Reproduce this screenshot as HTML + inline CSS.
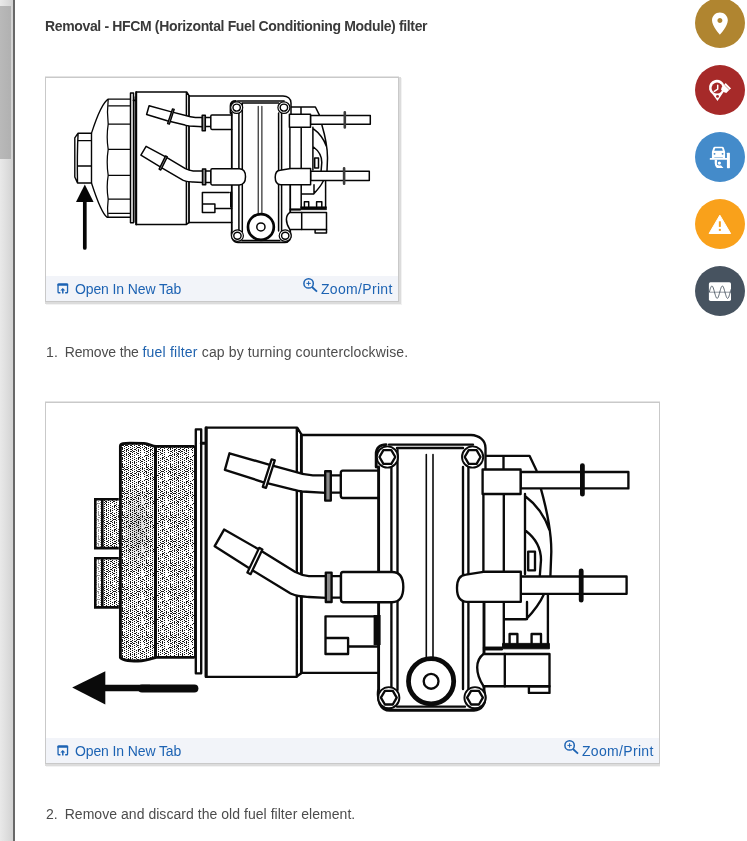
<!DOCTYPE html>
<html lang="en">
<head>
<meta charset="utf-8">
<title>Removal - HFCM (Horizontal Fuel Conditioning Module) filter</title>
<style>
html,body{margin:0;padding:0;background:#fff;}
body{width:747px;height:841px;position:relative;overflow:hidden;font-family:"Liberation Sans",sans-serif;font-size:14px;color:#4c4c4c;}
.abs{position:absolute;}
.track{left:0;top:0;width:13px;height:841px;background:linear-gradient(to right,#e9e9e9 0,#dcdcdc 60%,#d2d2d2 100%);}
.thumb{left:0;top:6px;width:11px;height:153px;background:linear-gradient(to right,#b9b9b9,#b1b1b1);}
.split{left:13px;top:0;width:2px;height:841px;background:#686868;}
h1{margin:0;left:44.8px;top:18.4px;font-size:14px;line-height:16px;font-weight:bold;color:#3a3a3a;letter-spacing:-0.35px;white-space:nowrap;will-change:transform;}
.step{left:45.5px;line-height:16px;white-space:nowrap;will-change:transform;}
.step .n{display:inline-block;width:18.7px;}
.step a{color:#1f62ae;text-decoration:none;}
.clip{left:0;top:0;height:841px;overflow:hidden;}
.fig{left:45px;box-sizing:border-box;border:1px solid #c9c9c9;background:#fff;box-shadow:1px 1px 0 1px #dcdcdc,2px 2px 0 1px #f2f2f2,0 -1px 0 0 #e4e4e4;}
.fig .img{display:block;position:absolute;left:0;top:0;}
.fig .bar{position:absolute;left:0;right:0;bottom:0;height:25px;background:#f2f4f9;}
.fig .bar a{position:absolute;top:5px;line-height:16px;color:#1d63b3;text-decoration:none;white-space:nowrap;will-change:transform;}
.fig .bar svg{position:absolute;}
.fab{width:50px;height:50px;border-radius:50%;left:695px;}
.fab svg{position:absolute;left:0;top:0;}
</style>
</head>
<body>
<div class="abs track"></div>
<div class="abs thumb"></div>
<div class="abs split"></div>
<h1 class="abs">Removal - HFCM (Horizontal Fuel Conditioning Module) filter</h1>
<div class="abs clip" style="width:747px;"><div class="abs fig" style="top:77px;width:354px;height:225px;">
<svg class="img" width="352" height="198" viewBox="46 78 352 198" role="img" aria-label="HFCM fuel filter housing with arrow pointing at the filter cap">
<path d="M 133.5 96.5 L 136.1 96.5 L 136.1 222.5 L 133.5 222.5 Z" fill="#8e8e8e"/>
<path d="M 130.5 93 L 133.5 93 L 133.5 222.7 L 130.5 222.7 Z M 136 224.6 L 136 92 L 186.7 92 L 189.2 95.9 L 283 95.9 C 287.4 96.1 291 98.6 291 102.9 L 291 114 M 136 224.6 L 186.2 224.6 L 189.2 222.4 L 231.7 222.4 M 186.4 92 L 186.4 224.6 M 205.2 117.4 L 210.8 117.4 M 205.2 126.6 L 210.8 126.6 M 231.7 114.9 L 211.9 114.9 C 211.1 114.9 210.8 115.4 210.8 116.2 L 210.8 128.1 C 210.8 128.9 211.2 129.4 211.9 129.4 L 231.7 129.4 M 229.2 192.4 L 202.4 192.4 L 202.4 212.4 L 214.9 212.4 L 214.9 203.9 L 202.4 203.9 M 214.9 208.4 L 231.7 208.4 M 238.9 113 L 238.9 231 M 242.3 103.9 L 242.3 231.6 M 278.6 113 L 278.6 231 M 281.6 103.9 L 281.6 231.6 M 237.6 101 L 284.1 101 M 242 102.9 L 278.6 102.9 M 242 240.4 L 279.7 240.4 M 291 107 L 301 107 L 301 114.3 M 301 107 L 315.4 107 L 319.3 114.8 M 289.9 127.3 L 289.9 168.8 M 301.2 127.3 L 301.2 206.6 M 312.9 127.3 L 312.9 169.9 M 325.6 181 L 325.6 207.6 M 312.9 128.4 C 319.6 133.2 324 139.6 326.5 146.5 M 321.7 124.3 C 324.6 134.2 327.6 146.5 327.5 158.2 L 327 170.9 M 313.5 147 C 318.5 150.7 321.8 156 321.8 162.4 L 321.1 170.9 M 314.7 158 L 318.5 158 L 318.5 167.9 L 314.7 167.9 Z M 301.7 193.9 L 313.6 193.9 C 317.9 189.6 321.3 185.3 323.4 180.8 M 314 184.8 L 314 193.8 M 304.4 206.6 L 304.4 201.8 L 308.7 201.8 L 308.7 206.6 M 316.6 206.6 L 316.6 201.8 L 321.8 201.8 L 321.8 206.6" fill="none" stroke="#050505" stroke-width="1.5" stroke-linejoin="round" stroke-linecap="round"/>
<path d="M 189 95.9 L 189 222.4 M 136.3 92.2 L 136.3 224.4 M 133.5 100.3 L 136.1 100.3 M 231.8 231 L 231.8 113 M 230.5 113 L 230.5 106 C 230.5 102.9 232.6 101 235.9 101 M 231.8 231 C 230.9 236.9 232.6 242.4 238.1 242.4 L 284.7 242.4 C 289.1 242.4 291.1 238.5 290.8 234.8 L 290.2 231.6 M 290.2 184.7 L 290.2 231.6" fill="none" stroke="#050505" stroke-width="1.8" stroke-linejoin="round" stroke-linecap="round"/>
<path d="M 258.2 106.3 L 258.2 215.6 M 261.9 106.3 L 261.9 215.6" fill="none" stroke="#050505" stroke-width="1.02" stroke-linejoin="round" stroke-linecap="round"/>
<path d="M 230 191.7 L 232.3 191.7 L 232.3 207.6 L 230 207.6 Z" fill="#050505"/>
<path d="M 300.5 206.8 L 326.5 206.8 L 326.5 209.7 L 300.5 209.7 L 300.5 210.3 L 289.9 210.3 L 289.9 208.7 L 300.5 208.7 Z" fill="#050505" stroke="#050505" stroke-width="0.60"/>
<path d="M 149.1 105.7 L 170.5 111.6 L 185.7 115.5 C 188.2 116.4 191.5 117.2 195.4 117.4 L 202.6 117.4 L 202.6 126.7 L 189.4 126 C 187.1 125.7 186 125.4 185 125.1 L 167.2 120.8 L 146.6 114.5 Z" fill="#fff" stroke="#050505" stroke-width="1.5" stroke-linejoin="round" stroke-linecap="round"/>
<path d="M 146.1 146.3 L 165.7 156.9 L 185.4 168.7 C 187.7 169.9 189.9 170.7 193.2 171 L 202.8 171 L 202.8 182.6 L 193.2 182.1 C 189.9 181.9 187.7 181.8 186.5 181.4 C 184.3 180.7 183.2 180.3 182.8 180.1 L 162.7 168.4 L 140.9 155.1 Z" fill="#fff" stroke="#050505" stroke-width="1.5" stroke-linejoin="round" stroke-linecap="round"/>
<path d="M 205.2 171 L 210.9 171 L 210.9 182.4 L 205.2 182.4" fill="#fff" stroke="#050505" stroke-width="1.5" stroke-linejoin="round" stroke-linecap="round"/>
<path d="M 212.1 168.8 C 211.2 168.8 210.9 169.3 210.9 170.1 L 210.9 183.5 C 210.9 184.3 211.3 184.9 212.1 184.9 L 239.2 184.9 C 243.6 184.9 245.5 182.1 245.5 176.8 C 245.5 171.5 243.6 168.8 239.2 168.8 Z" fill="#fff" stroke="#050505" stroke-width="1.5" stroke-linejoin="round" stroke-linecap="round"/>
<path d="M 310.5 115.6 L 370.3 115.6 L 370.3 124.3 L 310.5 124.3 Z" fill="#fff" stroke="#050505" stroke-width="1.5" stroke-linejoin="round" stroke-linecap="round"/>
<path d="M 289.4 114.3 L 310.5 114.3 L 310.5 127.3 L 289.4 127.3 Z" fill="#fff" stroke="#050505" stroke-width="1.5" stroke-linejoin="round" stroke-linecap="round"/>
<path d="M 310.6 171.2 L 369.3 171.2 L 369.3 180.4 L 310.6 180.4 Z" fill="#fff" stroke="#050505" stroke-width="1.5" stroke-linejoin="round" stroke-linecap="round"/>
<path d="M 280.2 170.2 C 276.4 170.4 275.2 173.6 275.2 177.3 C 275.2 181.6 276.9 184.7 280.8 184.7 L 310.6 184.7 L 310.6 168.6 L 290.8 168.6 Z" fill="#fff" stroke="#050505" stroke-width="1.5" stroke-linejoin="round" stroke-linecap="round"/>
<path d="M 315.1 229.6 L 315.1 233.1 L 326.5 233.1 L 326.5 229.6 Z" fill="#fff" stroke="#050505" stroke-width="1.5" stroke-linejoin="round" stroke-linecap="round"/>
<path d="M 301.7 212.4 L 326.5 212.4 L 326.5 229.6 L 289.9 229.6 C 287.7 226.3 286.4 223.1 286.4 219.6 C 286.4 216.1 287.7 214 289.9 212.4 Z" fill="#fff" stroke="#050505" stroke-width="1.5" stroke-linejoin="round" stroke-linecap="round"/>
<path d="M 301.7 212.4 L 301.7 229.6" fill="none" stroke="#050505" stroke-width="1.5" stroke-linejoin="round" stroke-linecap="round"/>
<path d="M 172.5 108.9 L 167.6 123.5 L 169.4 124.1 L 174.2 109.4 Z M 165.6 155.9 L 159.1 169.1 L 160.8 170 L 167.4 156.8 Z" fill="#9a9a9a" stroke="#050505" stroke-width="1.4249999999999998" stroke-linejoin="round" stroke-linecap="round"/>
<path d="M 202.2 115.2 L 205.3 115.2 L 205.3 130.8 L 202.2 130.8 Z M 202.5 169.1 L 205.7 169.1 L 205.7 184.8 L 202.5 184.8 Z" fill="#8a8a8a" stroke="#050505" stroke-width="1.5" stroke-linejoin="round" stroke-linecap="round"/>
<path d="M 344.8 112.2 L 344.8 127.4 M 344.1 168.2 L 344.1 183.8" fill="none" stroke="#3c3c3c" stroke-width="2.6" stroke-linecap="round"/>
<path d="M 242.7 107.6 C 242.7 110.8 240 113.4 236.7 113.4 C 233.3 113.4 230.7 110.8 230.7 107.6 C 230.7 104.4 233.3 101.9 236.7 101.9 C 240 101.9 242.7 104.4 242.7 107.6 Z M 289.9 107.6 C 289.9 110.8 287.2 113.4 283.9 113.4 C 280.6 113.4 277.9 110.8 277.9 107.6 C 277.9 104.4 280.6 101.9 283.9 101.9 C 287.2 101.9 289.9 104.4 289.9 107.6 Z M 243.4 235.7 C 243.4 238.9 240.8 241.4 237.4 241.4 C 234.1 241.4 231.5 238.9 231.5 235.7 C 231.5 232.5 234.1 229.9 237.4 229.9 C 240.8 229.9 243.4 232.5 243.4 235.7 Z M 291.2 235.7 C 291.2 238.9 288.5 241.4 285.2 241.4 C 281.9 241.4 279.2 238.9 279.2 235.7 C 279.2 232.5 281.9 229.9 285.2 229.9 C 288.5 229.9 291.2 232.5 291.2 235.7 Z" fill="#fff" stroke="#050505" stroke-width="1.20"/>
<path d="M 240.3 107.6 C 240.3 109.6 238.7 111.1 236.7 111.1 C 234.7 111.1 233 109.6 233 107.6 C 233 105.7 234.7 104.1 236.7 104.1 C 238.7 104.1 240.3 105.7 240.3 107.6 Z M 287.6 107.6 C 287.6 109.6 285.9 111.1 283.9 111.1 C 281.9 111.1 280.2 109.6 280.2 107.6 C 280.2 105.7 281.9 104.1 283.9 104.1 C 285.9 104.1 287.6 105.7 287.6 107.6 Z M 241.1 235.7 C 241.1 237.6 239.4 239.2 237.4 239.2 C 235.4 239.2 233.8 237.6 233.8 235.7 C 233.8 233.8 235.4 232.2 237.4 232.2 C 239.4 232.2 241.1 233.8 241.1 235.7 Z M 288.9 235.7 C 288.9 237.6 287.2 239.2 285.2 239.2 C 283.2 239.2 281.6 237.6 281.6 235.7 C 281.6 233.8 283.2 232.2 285.2 232.2 C 287.2 232.2 288.9 233.8 288.9 235.7 Z" fill="none" stroke="#050505" stroke-width="1.44" stroke-linejoin="round"/>
<path d="M 273.8 226.9 C 273.8 234.1 268 239.8 260.9 239.8 C 253.7 239.8 248 234.1 248 226.9 C 248 219.8 253.7 214.1 260.9 214.1 C 268 214.1 273.8 219.8 273.8 226.9 Z" fill="#fff" stroke="#050505" stroke-width="2.7"/>
<path d="M 265 226.9 C 265 229.1 263.2 230.9 260.9 230.9 C 258.6 230.9 256.8 229.1 256.8 226.9 C 256.8 224.8 258.6 223 260.9 223 C 263.2 223 265 224.8 265 226.9 Z" fill="none" stroke="#050505" stroke-width="1.5"/>
<path d="M78.1 133.2 L91.5 133.2 L91.5 183 L77.5 183 L74.8 177 L74.8 137.9 Z M78.1 133.2 C77.2 150 77.2 166 77.5 183 M77.8 140.6 L91.5 140.6 M77.6 166 L91.5 166" fill="none" stroke="#050505" stroke-width="1.4" stroke-linejoin="round"/>
<path d="M91.5 133.2 C94.5 124 101 103.5 108.2 99.1 L130.2 99.1 M91.5 183 C94.5 192.2 101 212.8 107 217.2 L130.2 217.2" fill="none" stroke="#050505" stroke-width="1.35" stroke-linejoin="round"/>
<path d="M108.2 105.8 L130.2 105.8 M108.2 124.1 L130.2 124.1 M108.2 149.3 L130.2 149.3 M108.2 175.4 L130.2 175.4 M108.2 199.1 L130.2 199.1 M108.2 213.4 L130.2 213.4" fill="none" stroke="#050505" stroke-width="1.35"/>
<path d="M108.2 99.1 Q106.8 112 108.2 124.1 Q106.2 137 108.2 149.3 Q106.2 162 108.2 175.4 Q106.2 187 108.2 199.1 Q107 208 108 217.2" fill="none" stroke="#050505" stroke-width="1.25"/>
<path d="M84.8 184.4 L93.6 201.9 L76 201.9 Z" fill="#050505"/>
<path d="M84.8 200 L84.8 248" fill="none" stroke="#050505" stroke-width="3.7" stroke-linecap="round"/>
</svg>
<div class="bar">
<svg width="12" height="11" viewBox="0 0 12 11" style="left:11px;top:6.5px;" aria-hidden="true"><path d="M3.4 9.750H1.900a.850.850 0 0 1-.850-.850V2a.850.850 0 0 1 .850-.850h7.800a.850.850 0 0 1 .850.850v6.900a.850.850 0 0 1-.850.850H8.200" fill="none" stroke="#1d63b3" stroke-width="1.3"/><rect x="0.4" y="0.5" width="10.8" height="2.2" rx="0.6" fill="#1d63b3"/><path d="M5.800 4.900L8.300 7.600H6.550V10.400H5.050V7.600H3.300Z" fill="#1d63b3"/></svg>
<a style="left:28.7px;letter-spacing:-0.12px;">Open In New Tab</a>
<svg width="17" height="16" viewBox="0 0 17 16" style="left:256.4px;top:0.8px;" aria-hidden="true"><circle cx="6.6" cy="6.4" r="4.7" fill="none" stroke="#1d63b3" stroke-width="1.5"/><path d="M10 10L15 14.6" stroke="#1d63b3" stroke-width="1.8" fill="none"/><path d="M4.4 6.4h4.4M6.6 4.2v4.4" stroke="#1d63b3" stroke-width="1" fill="none"/></svg>
<a style="left:275.4px;letter-spacing:0.32px;">Zoom/Print</a>
</div>
</div></div>
<div class="abs step" style="top:344.2px;letter-spacing:0.13px;"><span class="n">1.</span><span style="letter-spacing:-0.15px;">Remove the </span><a style="letter-spacing:0.22px;">fuel filter</a> cap by turning counterclockwise.</div>
<div class="abs clip" style="width:660px;"><div class="abs fig" style="top:402px;width:615px;height:362px;">
<svg class="img" width="613" height="335" viewBox="46 403 613 335" role="img" aria-label="Fuel filter element being pulled out of the HFCM housing">
<defs><pattern id="dots" width="24" height="24" patternUnits="userSpaceOnUse"><rect width="24" height="24" fill="#fff"/><path shape-rendering="crispEdges" fill="#161616" d="M0 0h1v1h-1zM4 0h1v1h-1zM8 0h1v1h-1zM10 0h1v1h-1zM12 0h1v1h-1zM20 0h1v1h-1zM2 1h1v1h-1zM6 1h1v1h-1zM10 1h1v1h-1zM14 1h1v1h-1zM18 1h1v1h-1zM19 1h1v1h-1zM22 1h1v1h-1zM2 2h1v1h-1zM4 2h1v1h-1zM8 2h1v1h-1zM12 2h1v1h-1zM16 2h1v1h-1zM18 2h1v1h-1zM20 2h1v1h-1zM2 3h1v1h-1zM6 3h1v1h-1zM10 3h1v1h-1zM14 3h1v1h-1zM18 3h1v1h-1zM22 3h1v1h-1zM23 3h1v1h-1zM0 4h1v1h-1zM4 4h1v1h-1zM8 4h1v1h-1zM12 4h1v1h-1zM16 4h1v1h-1zM20 4h1v1h-1zM2 5h1v1h-1zM6 5h1v1h-1zM10 5h1v1h-1zM14 5h1v1h-1zM18 5h1v1h-1zM21 5h1v1h-1zM22 5h1v1h-1zM0 6h1v1h-1zM8 6h1v1h-1zM10 6h1v1h-1zM12 6h1v1h-1zM14 6h1v1h-1zM16 6h1v1h-1zM20 6h1v1h-1zM2 7h1v1h-1zM6 7h1v1h-1zM10 7h1v1h-1zM14 7h1v1h-1zM22 7h1v1h-1zM0 8h1v1h-1zM2 8h1v1h-1zM4 8h1v1h-1zM8 8h1v1h-1zM12 8h1v1h-1zM16 8h1v1h-1zM20 8h1v1h-1zM2 9h1v1h-1zM6 9h1v1h-1zM10 9h1v1h-1zM14 9h1v1h-1zM15 9h1v1h-1zM18 9h1v1h-1zM22 9h1v1h-1zM2 10h1v1h-1zM4 10h1v1h-1zM8 10h1v1h-1zM10 10h1v1h-1zM12 10h1v1h-1zM16 10h1v1h-1zM20 10h1v1h-1zM2 11h1v1h-1zM3 11h1v1h-1zM6 11h1v1h-1zM7 11h1v1h-1zM10 11h1v1h-1zM14 11h1v1h-1zM17 11h1v1h-1zM18 11h1v1h-1zM22 11h1v1h-1zM0 12h1v1h-1zM4 12h1v1h-1zM8 12h1v1h-1zM12 12h1v1h-1zM16 12h1v1h-1zM20 12h1v1h-1zM22 12h1v1h-1zM2 13h1v1h-1zM3 13h1v1h-1zM5 13h1v1h-1zM6 13h1v1h-1zM7 13h1v1h-1zM10 13h1v1h-1zM11 13h1v1h-1zM14 13h1v1h-1zM18 13h1v1h-1zM19 13h1v1h-1zM22 13h1v1h-1zM0 14h1v1h-1zM4 14h1v1h-1zM8 14h1v1h-1zM12 14h1v1h-1zM16 14h1v1h-1zM20 14h1v1h-1zM1 15h1v1h-1zM2 15h1v1h-1zM6 15h1v1h-1zM10 15h1v1h-1zM14 15h1v1h-1zM17 15h1v1h-1zM18 15h1v1h-1zM19 15h1v1h-1zM22 15h1v1h-1zM0 16h1v1h-1zM2 16h1v1h-1zM4 16h1v1h-1zM8 16h1v1h-1zM12 16h1v1h-1zM16 16h1v1h-1zM20 16h1v1h-1zM2 17h1v1h-1zM6 17h1v1h-1zM7 17h1v1h-1zM10 17h1v1h-1zM11 17h1v1h-1zM14 17h1v1h-1zM15 17h1v1h-1zM18 17h1v1h-1zM23 17h1v1h-1zM0 18h1v1h-1zM4 18h1v1h-1zM6 18h1v1h-1zM8 18h1v1h-1zM12 18h1v1h-1zM16 18h1v1h-1zM18 18h1v1h-1zM20 18h1v1h-1zM2 19h1v1h-1zM3 19h1v1h-1zM6 19h1v1h-1zM10 19h1v1h-1zM11 19h1v1h-1zM13 19h1v1h-1zM14 19h1v1h-1zM18 19h1v1h-1zM0 20h1v1h-1zM4 20h1v1h-1zM8 20h1v1h-1zM12 20h1v1h-1zM16 20h1v1h-1zM20 20h1v1h-1zM2 21h1v1h-1zM6 21h1v1h-1zM9 21h1v1h-1zM10 21h1v1h-1zM14 21h1v1h-1zM17 21h1v1h-1zM18 21h1v1h-1zM4 22h1v1h-1zM6 22h1v1h-1zM8 22h1v1h-1zM10 22h1v1h-1zM12 22h1v1h-1zM16 22h1v1h-1zM20 22h1v1h-1zM1 23h1v1h-1zM2 23h1v1h-1zM3 23h1v1h-1zM6 23h1v1h-1zM9 23h1v1h-1zM14 23h1v1h-1zM18 23h1v1h-1z"/></pattern><radialGradient id="shade" cx="0.5" cy="0.5" r="0.5"><stop offset="0" stop-color="#000" stop-opacity="0.2"/><stop offset="1" stop-color="#000" stop-opacity="0"/></radialGradient></defs>
<path d="M120.4 446 C120.6 443.6 124 443.2 130 443.2 L144 443.4 C149 443.8 152 446.2 156 446.4 L194.6 446.4 L194.6 657.4 L156 657.4 C151 659 146 661 138 661 C130 661 122 660.5 120.4 657.5 Z" fill="url(#dots)"/>
<ellipse cx="138" cy="528" rx="17" ry="46" fill="url(#shade)"/>
<path d="M194.6 446.4 L156 446.4 C152 446.2 149 443.8 144 443.4 L130 443.2 C124 443.2 120.6 443.6 120.4 446 L120.4 657.5 C122 660.5 130 661 138 661 C146 661 151 659 156 657.4 L194.6 657.4" fill="none" stroke="#0a0a0a" stroke-width="2.9" stroke-linejoin="round"/>
<path d="M155.5 446 L155.5 658" fill="none" stroke="#0a0a0a" stroke-width="3"/>
<path d="M194.7 446 L194.7 658" fill="none" stroke="#0a0a0a" stroke-width="1.2"/>
<path d="M103 499 L118.8 499 L118.8 548 L103 548 Z M103 558.3 L118.8 558.3 L118.8 607.4 L103 607.4 Z" fill="url(#dots)"/>
<path d="M96 499 L102 499 L102 548 L96 548 Z M96 558.3 L102 558.3 L102 607.4 L96 607.4 Z" fill="url(#dots)" opacity="0.45"/>
<path d="M118.8 499.3 L95.3 499.3 L95.3 548.1 L118.8 548.1 M118.8 558.3 L95.3 558.3 L95.3 607.4 L118.8 607.4 M102.3 499.3 L102.3 548.1 M102.3 558.3 L102.3 607.4" fill="none" stroke="#0a0a0a" stroke-width="2.6" stroke-linejoin="miter"/>
<path d="M 195.8 429.4 L 201.2 429.4 L 201.2 673.3 L 195.8 673.3 Z M 205.8 676.8 L 205.8 427.6 L 297.2 427.6 L 301.8 435 L 471 435 C 479 435.4 485.5 440 485.5 448 L 485.5 469 M 205.8 676.8 L 296.4 676.8 L 301.8 672.8 L 378.5 672.8 M 296.8 427.6 L 296.8 676.8 M 330.7 475.4 L 340.8 475.4 M 330.7 492.6 L 340.8 492.6 M 378.5 470.6 L 342.8 470.6 C 341.2 470.6 340.8 471.6 340.8 473.1 L 340.8 495.5 C 340.8 497 341.4 498 342.8 498 L 378.5 498 M 374 616.3 L 325.5 616.3 L 325.5 654 L 348.1 654 L 348.1 638 L 325.5 638 M 348.1 646.5 L 378.5 646.5 M 391.4 467 L 391.4 689 M 397.5 450 L 397.5 690 M 463 467 L 463 689 M 468.4 450 L 468.4 690 M 389 444.6 L 473 444.6 M 397 448 L 463 448 M 397 706.6 L 465 706.6 M 485.5 455.8 L 503.5 455.8 L 503.5 469.5 M 503.5 455.8 L 529.5 455.8 L 536.5 470.5 M 483.4 494 L 483.4 572 M 503.8 494 L 503.8 643 M 525 494 L 525 574 M 547.9 595 L 547.9 645 M 525 496 C 537 505 545 517 549.5 530 M 540.8 488.4 C 546 507 551.5 530 551.3 552 L 550.4 576 M 526 531 C 535 538 541 548 541 560 L 539.8 576 M 528.2 551.6 L 535 551.6 L 535 570.3 L 528.2 570.3 Z M 504.8 619.2 L 526.2 619.2 C 534 611 540 603 543.8 594.5 M 527 602 L 527 619 M 509.6 643 L 509.6 634 L 517.4 634 L 517.4 643 M 531.6 643 L 531.6 634 L 541 634 L 541 643" fill="none" stroke="#0a0a0a" stroke-width="2.35" stroke-linejoin="round" stroke-linecap="round"/>
<path d="M 301.4 435 L 301.4 672.8 M 206.3 428 L 206.3 676.6 M 201.2 443.2 L 206 443.2 M 378.6 689 L 378.6 467 M 376.2 467 L 376.2 454 C 376.2 448 380 444.6 386 444.6 M 378.6 689 C 377 700 380 710.3 390 710.3 L 474 710.3 C 482 710.3 485.6 703 485 696 L 484 690 M 484 601.8 L 484 690" fill="none" stroke="#0a0a0a" stroke-width="2.9" stroke-linejoin="round" stroke-linecap="round"/>
<path d="M 426.3 454.5 L 426.3 660 M 433 454.5 L 433 660" fill="none" stroke="#0a0a0a" stroke-width="1.598" stroke-linejoin="round" stroke-linecap="round"/>
<path d="M 373.6 615 L 380.6 615 L 380.6 645 L 373.6 645 Z" fill="#0a0a0a"/>
<path d="M 502.5 643.4 L 549.4 643.4 L 549.4 648.8 L 502.5 648.8 L 502.5 650 L 483.4 650 L 483.4 647 L 502.5 647 Z" fill="#0a0a0a" stroke="#0a0a0a" stroke-width="0.94"/>
<path d="M 229.5 453.3 L 268.1 464.4 L 295.5 471.8 C 300 473.4 306 475 312.9 475.4 L 326 475.4 L 326 492.8 L 302.2 491.5 C 298 491 296 490.4 294.2 489.9 L 262.1 481.8 L 224.9 469.9 Z" fill="#fff" stroke="#0a0a0a" stroke-width="2.35" stroke-linejoin="round" stroke-linecap="round"/>
<path d="M 224.1 529.6 L 259.4 549.7 L 294.9 571.8 C 299 574 303 575.6 308.9 576.1 L 326.3 576.1 L 326.3 597.9 L 308.9 597 C 303 596.6 299 596.4 296.9 595.7 C 293 594.4 291 593.6 290.2 593.2 L 254 571.2 L 214.7 546.2 Z" fill="#fff" stroke="#0a0a0a" stroke-width="2.35" stroke-linejoin="round" stroke-linecap="round"/>
<path d="M 330.7 576.1 L 341 576.1 L 341 597.6 L 330.7 597.6" fill="#fff" stroke="#0a0a0a" stroke-width="2.35" stroke-linejoin="round" stroke-linecap="round"/>
<path d="M 343 572 C 341.4 572 341 573 341 574.5 L 341 599.6 C 341 601.2 341.6 602.2 343 602.2 L 392 602.2 C 400 602.2 403.3 597 403.3 587 C 403.3 577 400 572 392 572 Z" fill="#fff" stroke="#0a0a0a" stroke-width="2.35" stroke-linejoin="round" stroke-linecap="round"/>
<path d="M 520.6 472 L 628.4 472 L 628.4 488.4 L 520.6 488.4 Z" fill="#fff" stroke="#0a0a0a" stroke-width="2.35" stroke-linejoin="round" stroke-linecap="round"/>
<path d="M 482.6 469.5 L 520.6 469.5 L 520.6 494 L 482.6 494 Z" fill="#fff" stroke="#0a0a0a" stroke-width="2.35" stroke-linejoin="round" stroke-linecap="round"/>
<path d="M 520.8 576.5 L 626.6 576.5 L 626.6 593.8 L 520.8 593.8 Z" fill="#fff" stroke="#0a0a0a" stroke-width="2.35" stroke-linejoin="round" stroke-linecap="round"/>
<path d="M 466 574.6 C 459 575 457 581 457 588 C 457 596 460 601.8 467 601.8 L 520.8 601.8 L 520.8 571.7 L 485 571.7 Z" fill="#fff" stroke="#0a0a0a" stroke-width="2.35" stroke-linejoin="round" stroke-linecap="round"/>
<path d="M 528.9 686.2 L 528.9 692.9 L 549.5 692.9 L 549.5 686.2 Z" fill="#fff" stroke="#0a0a0a" stroke-width="2.35" stroke-linejoin="round" stroke-linecap="round"/>
<path d="M 504.8 654 L 549.5 654 L 549.5 686.2 L 483.5 686.2 C 479.5 680 477.2 674 477.2 667.5 C 477.2 661 479.5 657 483.5 654 Z" fill="#fff" stroke="#0a0a0a" stroke-width="2.35" stroke-linejoin="round" stroke-linecap="round"/>
<path d="M 504.8 654 L 504.8 686.2" fill="none" stroke="#0a0a0a" stroke-width="2.35" stroke-linejoin="round" stroke-linecap="round"/>
<path d="M 271.6 459.3 L 262.8 486.9 L 266 487.9 L 274.8 460.3 Z M 259.2 547.8 L 247.4 572.6 L 250.6 574.2 L 262.4 549.4 Z" fill="#fff" stroke="#0a0a0a" stroke-width="2.2325" stroke-linejoin="round" stroke-linecap="round"/>
<path d="M 325.2 471.2 L 330.8 471.2 L 330.8 500.6 L 325.2 500.6 Z M 325.8 572.6 L 331.6 572.6 L 331.6 602 L 325.8 602 Z" fill="#8a8a8a" stroke="#0a0a0a" stroke-width="2.35" stroke-linejoin="round" stroke-linecap="round"/>
<path d="M 582.4 465.6 L 582.4 494.2 M 581.2 570.8 L 581.2 600.2" fill="none" stroke="#0a0a0a" stroke-width="4.8" stroke-linecap="round"/>
<path d="M 398 457 C 398 462.9 393.3 467.6 387.4 467.6 C 381.5 467.6 376.8 462.9 376.8 457 C 376.8 451.1 381.5 446.4 387.4 446.4 C 393.3 446.4 398 451.1 398 457 Z M 483.2 457 C 483.2 462.9 478.5 467.6 472.6 467.6 C 466.7 467.6 462 462.9 462 457 C 462 451.1 466.7 446.4 472.6 446.4 C 478.5 446.4 483.2 451.1 483.2 457 Z M 399.4 697.7 C 399.4 703.6 394.7 708.3 388.8 708.3 C 382.9 708.3 378.2 703.6 378.2 697.7 C 378.2 691.8 382.9 687.1 388.8 687.1 C 394.7 687.1 399.4 691.8 399.4 697.7 Z M 485.6 697.7 C 485.6 703.6 480.9 708.3 475 708.3 C 469.1 708.3 464.4 703.6 464.4 697.7 C 464.4 691.8 469.1 687.1 475 687.1 C 480.9 687.1 485.6 691.8 485.6 697.7 Z" fill="#fff" stroke="#0a0a0a" stroke-width="1.88"/>
<path d="M 395.3 457 L 391.3 463.8 L 383.4 463.8 L 379.5 457 L 383.4 450.2 L 391.3 450.2 Z M 480.5 457 L 476.6 463.8 L 468.7 463.8 L 464.7 457 L 468.7 450.2 L 476.6 450.2 Z M 396.7 697.7 L 392.8 704.5 L 384.9 704.5 L 380.9 697.7 L 384.9 690.9 L 392.8 690.9 Z M 482.9 697.7 L 478.9 704.5 L 471.1 704.5 L 467.1 697.7 L 471.1 690.9 L 478.9 690.9 Z" fill="none" stroke="#0a0a0a" stroke-width="2.32" stroke-linejoin="round"/>
<path d="M 453.7 681.3 C 453.7 693.8 443.6 703.9 431.1 703.9 C 418.6 703.9 408.5 693.8 408.5 681.3 C 408.5 668.8 418.6 658.7 431.1 658.7 C 443.6 658.7 453.7 668.8 453.7 681.3 Z" fill="#fff" stroke="#0a0a0a" stroke-width="4.8"/>
<path d="M 438.5 681.3 C 438.5 685.4 435.2 688.7 431.1 688.7 C 427 688.7 423.7 685.4 423.7 681.3 C 423.7 677.2 427 673.9 431.1 673.9 C 435.2 673.9 438.5 677.2 438.5 681.3 Z" fill="none" stroke="#0a0a0a" stroke-width="2.35"/>
<path d="M72.2 687.6 L105.3 671.3 L105.3 704.6 Z" fill="#0a0a0a"/>
<path d="M104 688 L150 688" fill="none" stroke="#0a0a0a" stroke-width="6.4"/>
<path d="M142 688.4 L194.4 688.4" fill="none" stroke="#0a0a0a" stroke-width="8" stroke-linecap="round"/>
</svg>
<div class="bar">
<svg width="12" height="11" viewBox="0 0 12 11" style="left:11px;top:6.5px;" aria-hidden="true"><path d="M3.4 9.750H1.900a.850.850 0 0 1-.850-.850V2a.850.850 0 0 1 .850-.850h7.800a.850.850 0 0 1 .850.850v6.900a.850.850 0 0 1-.850.850H8.200" fill="none" stroke="#1d63b3" stroke-width="1.3"/><rect x="0.4" y="0.5" width="10.8" height="2.2" rx="0.6" fill="#1d63b3"/><path d="M5.800 4.900L8.300 7.600H6.550V10.400H5.050V7.600H3.300Z" fill="#1d63b3"/></svg>
<a style="left:28.7px;letter-spacing:-0.12px;">Open In New Tab</a>
<svg width="17" height="16" viewBox="0 0 17 16" style="left:517.0px;top:0.8px;" aria-hidden="true"><circle cx="6.6" cy="6.4" r="4.7" fill="none" stroke="#1d63b3" stroke-width="1.5"/><path d="M10 10L15 14.6" stroke="#1d63b3" stroke-width="1.8" fill="none"/><path d="M4.4 6.4h4.4M6.6 4.2v4.4" stroke="#1d63b3" stroke-width="1" fill="none"/></svg>
<a style="left:536.0px;letter-spacing:0.32px;">Zoom/Print</a>
</div>
</div></div>
<div class="abs step" style="top:806.3px;letter-spacing:0.04px;"><span class="n">2.</span>Remove and discard the old fuel filter element.</div>
<div class="abs fab" style="top:-2px;background:#b08530;"><svg width="50" height="50" viewBox="0 0 50 50" aria-hidden="true"><path transform="translate(11.35 12.3) scale(1.13 1.115)" fill="#fff" fill-rule="evenodd" d="M12 2C8.13 2 5 5.13 5 9c0 5.25 7 13 7 13s7-7.75 7-13c0-3.870-3.130-7-7-7zm0 9.300c-1.210 0-2.200-.990-2.200-2.200s.990-2.200 2.200-2.200 2.200 .990 2.200 2.200-.990 2.200-2.200 2.200z"/></svg></div>
<div class="abs fab" style="top:65px;background:#a62a29;"><svg width="50" height="50" viewBox="0 0 50 50" aria-hidden="true"><path d="M22.50 35.92 L17.78 29.49 A7.9 7.9 0 1 1 28.37 27.14 Z" fill="#fff"/><circle cx="22.07" cy="23.07" r="5.5" fill="#a62a29"/><circle cx="22.50" cy="31.42" r="1.45" fill="#a62a29"/><path d="M22.71 20.28 L22.71 24.14 L19.28 26.28" fill="none" stroke="#fff" stroke-width="1.5" stroke-linecap="round" stroke-linejoin="round"/><path d="M26.57 22.43 L29.57 19.21 L30.64 18.05 L36.08 23.50 L34.71 24.48 L31.28 28.08 L28.49 26.92 L26.05 24.78 Z" fill="#fff"/><path d="M29.48 19.94 L34.36 24.78" fill="none" stroke="#a62a29" stroke-width="0.55"/></svg></div>
<div class="abs fab" style="top:132px;background:#448bca;"><svg width="50" height="50" viewBox="0 0 50 50" aria-hidden="true"><path d="M16.93 25.92 L16.93 19.71 L18.21 16.07 Q18.64 14.78 19.93 14.78 L27.21 14.78 Q28.49 14.78 28.92 16.07 L30.08 19.71 L30.08 25.92 Z" fill="#fff"/><path d="M20.23 16.37 L26.99 16.37 L27.85 18.68 L19.28 18.68 Z" fill="#448bca"/><circle cx="19.54" cy="21.85" r="0.95" fill="#448bca"/><circle cx="27.59" cy="21.85" r="0.95" fill="#448bca"/><rect x="19.28" y="25.20" width="8.57" height="0.64" fill="#448bca" opacity="0.75"/><rect x="14.78" y="26.05" width="17.57" height="1.80" rx="0.5" fill="#fff"/><rect x="31.92" y="20.65" width="3.00" height="15.55" rx="0.6" fill="#fff"/><path d="M19.71 27.85 L22.07 27.85 L22.37 32.99 L25.92 33.34 L28.49 36.08 L21.85 36.08 Q19.93 34.71 19.71 31.28 Z" fill="#fff"/><circle cx="24.34" cy="31.07" r="2.5" fill="#448bca"/><circle cx="24.34" cy="31.07" r="1.65" fill="#fff"/></svg></div>
<div class="abs fab" style="top:199px;background:#f9a11b;"><svg width="50" height="50" viewBox="0 0 50 50" aria-hidden="true"><path d="M24.85 16.2 L35.6 34.5 L14.1 34.5 Z" fill="#fff" stroke="#fff" stroke-width="1" stroke-linejoin="round"/><rect x="23.85" y="22.3" width="2" height="5.6" fill="#f9a11b"/><rect x="23.85" y="29.9" width="2" height="2" fill="#f9a11b"/></svg></div>
<div class="abs fab" style="top:266px;background:#475360;"><svg width="50" height="50" viewBox="0 0 50 50" aria-hidden="true"><rect x="13.9" y="16.3" width="22.1" height="18.6" rx="1.6" fill="#fff"/><path d="M13.9 26.2 L36.0 26.2" stroke="#475360" stroke-width="0.6" fill="none"/><path d="M14.30 26.20 L14.66 24.86 L15.02 23.59 L15.39 22.44 L15.75 21.46 L16.11 20.71 L16.47 20.22 L16.83 20.01 L17.19 20.09 L17.55 20.46 L17.92 21.10 L18.28 21.98 L18.64 23.05 L19.00 24.28 L19.36 25.60 L19.73 26.94 L20.09 28.25 L20.45 29.47 L20.81 30.53 L21.17 31.38 L21.53 32.00 L21.90 32.33 L22.26 32.38 L22.62 32.14 L22.98 31.62 L23.34 30.84 L23.70 29.85 L24.07 28.68 L24.43 27.40 L24.79 26.06 L25.15 24.72 L25.51 23.46 L25.87 22.32 L26.24 21.37 L26.60 20.65 L26.96 20.18 L27.32 20.00 L27.68 20.11 L28.04 20.51 L28.41 21.18 L28.77 22.08 L29.13 23.18 L29.49 24.42 L29.85 25.74 L30.21 27.09 L30.58 28.39 L30.94 29.59 L31.30 30.63 L31.66 31.46 L32.02 32.04 L32.38 32.35 L32.75 32.37 L33.11 32.10 L33.47 31.55 L33.83 30.75 L34.19 29.73 L34.55 28.55 L34.92 27.26 L35.28 25.91 L35.64 24.58 L36.00 23.33" stroke="#475360" stroke-width="0.9" fill="none" stroke-linejoin="round"/></svg></div>
</body>
</html>
